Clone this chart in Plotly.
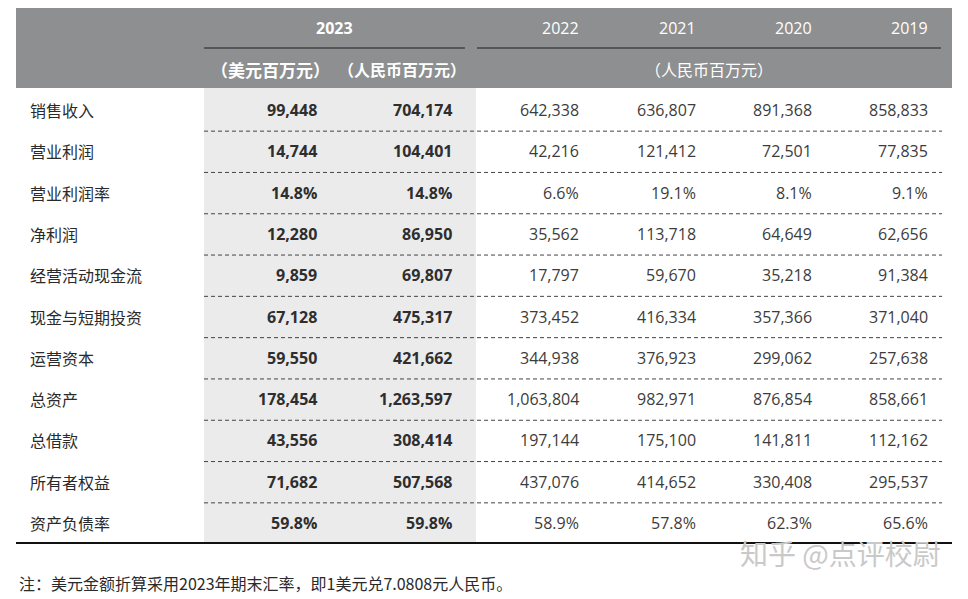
import plotly.graph_objects as go

# ---------------- data ----------------
row_labels = ['销售收入', '营业利润', '营业利润率', '净利润', '经营活动现金流',
              '现金与短期投资', '运营资本', '总资产', '总借款', '所有者权益', '资产负债率']
pct_rows = [2, 10]
usd_2023 = [99448, 14744, 14.8, 12280, 9859, 67128, 59550, 178454, 43556, 71682, 59.8]
rmb_2023 = [704174, 104401, 14.8, 86950, 69807, 475317, 421662, 1263597, 308414, 507568, 59.8]
rmb_2022 = [642338, 42216, 6.6, 35562, 17797, 373452, 344938, 1063804, 197144, 437076, 58.9]
rmb_2021 = [636807, 121412, 19.1, 113718, 59670, 416334, 376923, 982971, 175100, 414652, 57.8]
rmb_2020 = [891368, 72501, 8.1, 64649, 35218, 357366, 299062, 876854, 141811, 330408, 62.3]
rmb_2019 = [858833, 77835, 9.1, 62656, 91384, 371040, 257638, 858661, 112162, 295537, 65.6]
year_labels = ['2023', '2022', '2021', '2020', '2019']
unit_usd = '（美元百万元）'
unit_rmb = '（人民币百万元）'
footnote = '注：美元金额折算采用2023年期末汇率，即1美元兑7.0808元人民币。'
watermark = '知乎 @点评校尉'

# ---------------- layout constants ----------------
OFF = 8  # page body margin
W, H = 968 - OFF, 599 - OFF
CJK = 'Noto Sans CJK SC'
NUM = 'Open Sans, Noto Sans CJK SC'
row0, row_h = 110, 41.3
col_right = [318, 453, 580, 697, 813, 929]
header_gray = '#8e8f91'
shade = '#ebebec'

def fmt(v, i):
    return f'{v:.1f}%' if i in pct_rows else f'{v:,}'

fig = go.Figure()
shapes = []
ann = []

# header band
shapes.append(dict(type='rect', x0=16, x1=952, y0=6, y1=88, fillcolor=header_gray,
                   line=dict(width=0), layer='below'))
# 2023 shading
shapes.append(dict(type='rect', x0=204, x1=476, y0=88, y1=543, fillcolor=shade,
                   line=dict(width=0), layer='below'))
# header underlines
shapes.append(dict(type='line', x0=204, x1=465, y0=48, y1=48, line=dict(color='#555658', width=2)))
shapes.append(dict(type='line', x0=477, x1=941, y0=48, y1=48, line=dict(color='#555658', width=2)))
# dashed row separators
for k in range(len(row_labels) - 1):
    y = row0 + 0.5 + row_h * (k + 0.5)
    shapes.append(dict(type='line', x0=204, x1=942, y0=y, y1=y,
                       line=dict(color='#444444', width=1, dash='4px,3px')))
# bottom rule
shapes.append(dict(type='line', x0=16, x1=952, y0=543, y1=543, line=dict(color='#111111', width=2)))

# header text
ann.append(dict(x=334, y=28, text='<b>' + year_labels[0] + '</b>', xanchor='center', yanchor='middle',
                font=dict(family=NUM, size=16, color='white')))
for yl, xr in zip(year_labels[1:], col_right[2:]):
    ann.append(dict(x=xr + 1, y=28, text=yl, xanchor='right', yanchor='middle',
                    font=dict(family=NUM, size=16, color='white')))
ann.append(dict(x=270, y=69, text='<b>' + unit_usd + '</b>', xanchor='center', yanchor='middle',
                font=dict(family=CJK, size=17, color='white')))
ann.append(dict(x=402, y=69, text='<b>' + unit_rmb + '</b>', xanchor='center', yanchor='middle',
                font=dict(family=CJK, size=16, color='white')))
ann.append(dict(x=709, y=69, text=unit_rmb, xanchor='center', yanchor='middle',
                font=dict(family=CJK, size=16, color='white')))

# body
cols = [usd_2023, rmb_2023, rmb_2022, rmb_2021, rmb_2020, rmb_2019]
for i, lab in enumerate(row_labels):
    y = row0 + row_h * i
    ann.append(dict(x=28, y=y, text=lab, xanchor='left', yanchor='middle',
                    font=dict(family=CJK, size=16, color='#2a2a2a')))
    for c, (vals, xr) in enumerate(zip(cols, col_right)):
        t = fmt(vals[i], i)
        if c < 2:
            t = '<b>' + t + '</b>'
            color = '#2e2e2e'
        else:
            color = '#3c3c3c'
        ann.append(dict(x=xr + 1, y=y, text=t, xanchor='right', yanchor='middle',
                        font=dict(family=NUM, size=16, color=color)))

# footnote & watermark
ann.append(dict(x=17, y=583, text=footnote, xanchor='left', yanchor='middle',
                font=dict(family=CJK, size=16, color='#2a2a2a')))
ann.append(dict(x=840, y=553, text=watermark, xanchor='center', yanchor='middle',
                font=dict(family=CJK, size=28, color='#c9c9c9')))

for a in ann:
    a.update(xref='x', yref='y', showarrow=False)

fig.update_layout(
    width=W, height=H, margin=dict(l=0, r=0, t=0, b=0),
    paper_bgcolor='white', plot_bgcolor='white',
    xaxis=dict(range=[OFF, 968], visible=False, fixedrange=True),
    yaxis=dict(range=[599, OFF], visible=False, fixedrange=True),
    shapes=shapes, annotations=ann, showlegend=False,
)
fig.write_html('out.html', config={'displayModeBar': False})
